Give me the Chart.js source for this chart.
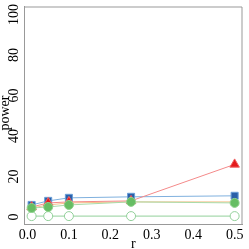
<!DOCTYPE html>
<html><head><meta charset="utf-8">
<script src="https://cdn.jsdelivr.net/npm/chart.js@4/dist/chart.umd.min.js"></script>
<style>html,body{margin:0;padding:0;background:#fff}#w{width:249px;height:249px}</style>
</head><body><div id="w"><canvas id="c"></canvas></div>
<script>
const rValues = [0.01, 0.05, 0.1, 0.25, 0.5];
const seriesBlue = [6, 8, 9.5, 10, 10.5];
const seriesRed = [5, 7, 7.5, 8, 26];
const seriesOrange = [4.5, 6, 7, 7.5, 7.5];
const seriesGreen = [4.5, 5, 6, 7.5, 7];
const seriesHollow = [0.5, 0.5, 0.5, 0.5, 0.5];
const xTicks = [0, 0.1, 0.2, 0.3, 0.4, 0.5];
const yTicks = [0, 20, 40, 60, 80, 100];
const xTitle = 'r';
const yTitle = 'power';

const pts = arr => rValues.map((x, i) => ({x, y: arr[i]}));
const serif = "'Liberation Serif', 'DejaVu Serif', serif";

new Chart(document.getElementById('c'), {
  type: 'scatter',
  data: {datasets: [
    {data: pts(seriesGreen), showLine: true, borderColor: '#a9dba9', borderWidth: 1,
     pointBackgroundColor: '#66bd63', pointBorderColor: '#8fd18c', pointRadius: 4.5, pointStyle: 'circle', order: 1},
    {data: pts(seriesRed), showLine: true, borderColor: '#f48a8a', borderWidth: 1,
     pointBackgroundColor: '#e41a1c', pointBorderColor: '#f06060', pointRadius: 5.5, pointStyle: 'triangle', order: 2},
    {data: pts(seriesBlue), showLine: true, borderColor: '#7fb0de', borderWidth: 1,
     pointBackgroundColor: '#2a5fa8', pointBorderColor: '#6a9fd8', pointRadius: 5, pointStyle: 'rect', order: 3},
    {data: pts(seriesOrange), showLine: true, borderColor: '#f6c08a', borderWidth: 1,
     pointRadius: 0, order: 4},
    {data: pts(seriesHollow), showLine: true, borderColor: '#92d09a', borderWidth: 1,
     pointBackgroundColor: '#ffffff', pointBorderColor: '#92d09a', pointRadius: 4.5, pointStyle: 'circle', order: 5}
  ]},
  options: {
    responsive: true, maintainAspectRatio: false, animation: false,
    layout: {padding: {top: 5, right: 6, left: 0, bottom: 0}},
    plugins: {legend: {display: false}, tooltip: {enabled: false}},
    scales: {
      x: {type: 'linear', min: -0.0084, max: 0.519,
        afterBuildTicks: s => { s.ticks = xTicks.map(v => ({value: v})); },
        afterFit: s => { s.height = 25; },
        grid: {display: false, drawTicks: true, tickLength: 3, tickColor: '#777'},
        border: {display: true, color: '#999'},
        ticks: {color: '#000', font: {family: serif, size: 14}, padding: 0, maxRotation: 0,
          callback: v => v.toFixed(1)},
        title: {display: true, text: xTitle, color: '#000', font: {family: serif, size: 14}, padding: {top: 0, bottom: -4}}
      },
      y: {min: -3.4, max: 103.9,
        afterBuildTicks: s => { s.ticks = yTicks.map(v => ({value: v})); },
        afterFit: s => { s.width = 24; },
        grid: {display: false, drawTicks: true, tickLength: 3, tickColor: '#777'},
        border: {display: true, color: '#999'},
        ticks: {display: false}
      }
    }
  },
  plugins: [{id: 'box', afterDraw(ch) {
    const {ctx, chartArea: a} = ch;
    const ys = ch.scales.y;
    ctx.save(); ctx.strokeStyle = '#999'; ctx.lineWidth = 1;
    ctx.beginPath(); ctx.moveTo(a.left, a.top + 0.5); ctx.lineTo(a.right - 0.5, a.top + 0.5); ctx.lineTo(a.right - 0.5, a.bottom); ctx.stroke();
    ctx.fillStyle = '#000'; ctx.font = '14px ' + serif;
    ctx.textAlign = 'center'; ctx.textBaseline = 'middle';
    yTicks.forEach(v => {
      const py = ys.getPixelForValue(v);
      ctx.save(); ctx.translate(14, py); ctx.rotate(-Math.PI / 2); ctx.fillText(String(v), 0, 0); ctx.restore();
    });
    ctx.save(); ctx.translate(5, 113); ctx.rotate(-Math.PI / 2); ctx.fillText(yTitle, 0, 0); ctx.restore();
    ctx.restore();
  }}]
});
</script></body></html>
